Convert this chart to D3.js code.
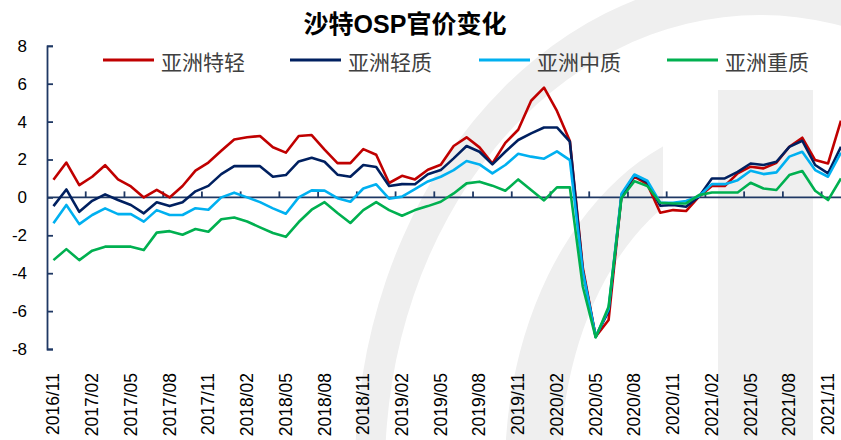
<!DOCTYPE html>
<html>
<head>
<meta charset="utf-8">
<script src="https://cdn.jsdelivr.net/npm/d3@7"></script>
<style>
  body { margin: 0; background: #fff; }
  svg { display: block; font-family: "Liberation Sans", Arial, "Noto Sans CJK SC", sans-serif; }
</style>
</head>
<body>
<svg></svg>
<script>
const svgWidth = 841;
const svgHeight = 440;

const months = [
  "2016/11","2016/12",
  "2017/01","2017/02","2017/03","2017/04","2017/05","2017/06","2017/07","2017/08","2017/09","2017/10","2017/11","2017/12",
  "2018/01","2018/02","2018/03","2018/04","2018/05","2018/06","2018/07","2018/08","2018/09","2018/10","2018/11","2018/12",
  "2019/01","2019/02","2019/03","2019/04","2019/05","2019/06","2019/07","2019/08","2019/09","2019/10","2019/11","2019/12",
  "2020/01","2020/02","2020/03","2020/04","2020/05","2020/06","2020/07","2020/08","2020/09","2020/10","2020/11","2020/12",
  "2021/01","2021/02","2021/03","2021/04","2021/05","2021/06","2021/07","2021/08","2021/09","2021/10","2021/11","2021/12"
];

// 亚洲特轻
const extraLight = [0.93,1.84,0.65,1.09,1.7,0.95,0.58,0,0.4,0,0.6,1.41,1.84,2.46,3.06,3.17,3.24,2.65,2.36,3.24,
  3.29,2.52,1.81,1.81,2.55,2.25,0.76,1.14,0.95,1.46,1.72,2.71,3.17,2.64,1.79,2.88,3.57,5.1,5.79,4.56,
  2.98,-3.7,-7.35,-6.47,0.1,1.09,0.7,-0.81,-0.67,-0.72,0.04,0.6,0.6,1.27,1.62,1.53,1.83,2.67,3.15,1.97,1.79,4.05];
// 亚洲轻质
const light = [-0.46,0.42,-0.76,-0.18,0.16,-0.14,-0.4,-0.84,-0.26,-0.46,-0.25,0.32,0.61,1.23,1.65,1.65,1.65,1.09,1.18,1.9,
  2.09,1.88,1.2,1.09,1.71,1.6,0.6,0.7,0.69,1.22,1.44,2.06,2.71,2.41,1.74,2.41,3.03,3.38,3.69,3.69,
  2.94,-3.85,-7.35,-6.0,0.1,1.17,0.8,-0.44,-0.4,-0.49,0.04,1.0,1.0,1.35,1.79,1.71,1.88,2.67,2.99,1.71,1.27,2.67];
// 亚洲中质
const medium = [-1.37,-0.4,-1.41,-0.93,-0.58,-0.88,-0.88,-1.28,-0.67,-0.93,-0.93,-0.57,-0.65,0,0.25,0,-0.25,-0.58,-0.86,0,
  0.37,0.36,-0.04,-0.23,0.47,0.69,-0.07,0.04,0.44,0.84,1.09,1.44,1.92,1.74,1.27,1.71,2.3,2.15,2.04,2.43,
  1.97,-3.9,-7.35,-5.9,0.2,1.21,0.88,-0.28,-0.28,-0.19,0.06,0.7,0.7,0.91,1.41,1.23,1.32,2.15,2.41,1.44,1.09,2.36];
// 亚洲重质
const heavy = [-3.31,-2.73,-3.31,-2.81,-2.6,-2.6,-2.6,-2.78,-1.86,-1.78,-1.97,-1.67,-1.81,-1.15,-1.06,-1.27,-1.58,-1.88,-2.08,-1.3,
  -0.65,-0.25,-0.82,-1.35,-0.67,-0.25,-0.67,-0.97,-0.67,-0.46,-0.23,0.21,0.74,0.83,0.62,0.35,0.95,0.39,-0.16,0.53,
  0.53,-4.7,-7.39,-5.77,-0.03,0.86,0.6,-0.28,-0.32,-0.32,0.12,0.26,0.26,0.26,0.77,0.47,0.39,1.18,1.39,0.35,-0.14,1.0];

const seriesNames = ["亚洲特轻", "亚洲轻质", "亚洲中质", "亚洲重质"];
const seriesColors = ["#C00000", "#002060", "#00B0F0", "#00B050"];
const yTicks = [-8, -6, -4, -2, 0, 2, 4, 6, 8];

const axisColor = "#1F3864";

const svg = d3.select("svg")
  .attr("width", svgWidth)
  .attr("height", svgHeight);

// faint watermark behind the chart
svg.append("clipPath").attr("id", "wmLeft")
  .append("rect").attr("x", 0).attr("y", 0).attr("width", 663).attr("height", svgHeight);

const wm = svg.append("g").attr("fill", "#EFEFEF");
wm.append("path")
  .attr("fill-rule", "evenodd")
  .attr("d", "M355,470 a405,494 0 1,1 810,0 a405,494 0 1,1 -810,0 Z M385,470 a375,455 0 1,1 750,0 a375,455 0 1,1 -750,0 Z");
wm.append("path")
  .attr("clip-path", "url(#wmLeft)")
  .attr("fill-rule", "evenodd")
  .attr("d", "M505,470 a255,350 0 1,1 510,0 a255,350 0 1,1 -510,0 Z M560,470 a200,300 0 1,1 400,0 a200,300 0 1,1 -400,0 Z");
wm.append("rect")
  .attr("x", 718).attr("y", 90)
  .attr("width", 95).attr("height", svgHeight - 90);

const x = d3.scaleBand()
  .domain(months)
  .range([47, 47 + months.length * 12.91])
  .padding(0);

const cx = function(m) { return x(m) + x.bandwidth() / 2; };

const y = d3.scaleLinear()
  .domain([-8, 8])
  .range([349, 45.8]);

// y axis, ticks inside
const yAxis = svg.append("g")
  .attr("transform", "translate(47,0)")
  .call(d3.axisLeft(y).tickValues(yTicks).tickSize(-6).tickPadding(20).tickFormat(d3.format("d")));
yAxis.select(".domain").attr("stroke", axisColor).attr("stroke-width", 1.8);
yAxis.selectAll(".tick line").attr("stroke", axisColor).attr("stroke-width", 1.8);
yAxis.selectAll(".tick text")
  .attr("font-size", 17)
  .attr("fill", "#000")
  .attr("font-family", "\"Liberation Sans\", Arial, sans-serif")
  .text(function(d) { return d < 0 ? "-" + Math.abs(d) : d; });

// zero line with tick marks every 3 months
const y0 = y(0);
svg.append("line")
  .attr("x1", 47).attr("x2", svgWidth)
  .attr("y1", y0).attr("y2", y0)
  .attr("stroke", axisColor)
  .attr("stroke-width", 1.8);

const tickMonths = months.filter(function(d, i) { return i > 0 && i % 3 === 0; });
svg.selectAll(".xtick")
  .data(tickMonths)
  .enter()
  .append("line")
  .attr("class", "xtick")
  .attr("x1", function(d) { return x(d); })
  .attr("x2", function(d) { return x(d); })
  .attr("y1", y0)
  .attr("y2", y0 - 6)
  .attr("stroke", axisColor)
  .attr("stroke-width", 1.8);

// month labels at the bottom, rotated
const labelMonths = months.filter(function(d, i) { return i % 3 === 0; });
svg.selectAll(".xlabel")
  .data(labelMonths)
  .enter()
  .append("text")
  .attr("class", "xlabel")
  .attr("transform", function(d) { return "translate(" + cx(d) + ",373) rotate(-90)"; })
  .attr("text-anchor", "end")
  .attr("dominant-baseline", "central")
  .attr("font-size", 17.5)
  .attr("fill", "#000")
  .attr("font-family", "\"Liberation Sans\", Arial, sans-serif")
  .text(function(d) { return d; });

// lines
const allSeries = [extraLight, light, medium, heavy];
const line = d3.line()
  .x(function(d, i) { return cx(months[i]); })
  .y(function(d) { return y(d); });

svg.selectAll(".series")
  .data(allSeries)
  .enter()
  .append("path")
  .attr("class", "series")
  .attr("fill", "none")
  .attr("stroke", function(d, i) { return seriesColors[i]; })
  .attr("stroke-width", 2.6)
  .attr("stroke-linejoin", "round")
  .attr("d", line);

// title
svg.append("text")
  .attr("x", 405)
  .attr("y", 33)
  .attr("text-anchor", "middle")
  .attr("font-size", 25)
  .attr("font-weight", "bold")
  .attr("fill", "#000")
  .text("沙特OSP官价变化");

// legend
const legendX = [103, 290, 479, 667];
const legend = svg.selectAll(".legend")
  .data(seriesNames)
  .enter()
  .append("g")
  .attr("class", "legend")
  .attr("transform", function(d, i) { return "translate(" + legendX[i] + ",60)"; });

legend.append("line")
  .attr("x1", 0).attr("x2", 51)
  .attr("y1", 0).attr("y2", 0)
  .attr("stroke", function(d, i) { return seriesColors[i]; })
  .attr("stroke-width", 3);

legend.append("text")
  .attr("x", 58)
  .attr("y", 1)
  .attr("dominant-baseline", "central")
  .attr("font-size", 21)
  .attr("fill", "#404040")
  .attr("font-family", "\"Noto Sans CJK SC\", sans-serif")
  .text(function(d) { return d; });
</script>
</body>
</html>
